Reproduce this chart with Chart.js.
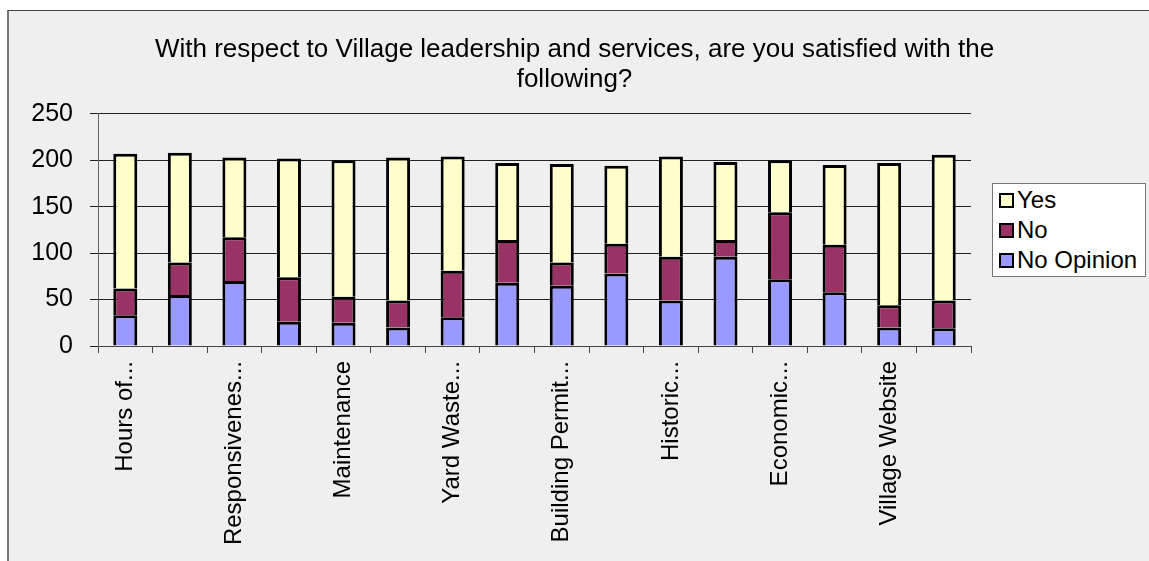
<!DOCTYPE html>
<html>
<head>
<meta charset="utf-8">
<script src="https://cdn.jsdelivr.net/npm/chart.js@4.4.1/dist/chart.umd.min.js"></script>
<style>
  html, body { margin: 0; padding: 0; background: #fff; }
  body { width: 1149px; height: 561px; position: relative; overflow: hidden; font-family: "Liberation Sans", Arial, sans-serif; }
  .frame { position: absolute; left: 7px; top: 10px; width: 1160px; height: 570px; background: #efefef; border-top: 1px solid #444; border-left: 2px solid #777; }
  #chart { position: absolute; left: 0; top: 0; }
  .legend { position: absolute; left: 992px; top: 183px; width: 152px; height: 92px; background: #fff; border: 1px solid #777; }
  .legend-item { display: flex; align-items: center; height: 30px; font-size: 24px; color: #000; padding-left: 6px; }
  .legend-item:first-child { margin-top: 1px; }
  .swatch { width: 11px; height: 11px; border: 2px solid #000; margin-right: 3px; }
</style>
</head>
<body>
<div class="frame"></div>
<canvas id="chart" width="1149" height="561"></canvas>
<div class="legend" id="legend"></div>
<script>
// ============================================
// Village leadership & services — satisfaction
// ============================================

// Only every second category name is visible in the source chart
const categories = [
  'Hours of...', '', 'Responsivenes...', '', 'Maintenance', '', 'Yard Waste...', '',
  'Building Permit...', '', 'Historic...', '', 'Economic...', '', 'Village Website', ''
];

const noOpinion = [33, 55, 70, 26, 25, 20, 31, 68, 65, 78, 49, 96, 72, 58, 20, 19];
const no        = [29, 35, 47, 48, 28, 29, 50, 46, 25, 32, 47, 18, 72, 51, 24, 30];
const yes       = [145, 118, 86, 128, 147, 154, 123, 83, 106, 84, 108, 84, 56, 86, 153, 157];

const yTicks = [0, 50, 100, 150, 200, 250];

const titleLines = [
  'With respect to Village leadership and services, are you satisfied with the',
  'following?'
];

const FONT = '"Liberation Sans", Arial, sans-serif';

const datasets = [
  { label: 'No Opinion', data: noOpinion, backgroundColor: '#9999ff' },
  { label: 'No', data: no, backgroundColor: '#993366' },
  { label: 'Yes', data: yes, backgroundColor: '#ffffcc' },
].map(ds => Object.assign(ds, {
  borderColor: '#000',
  borderWidth: 3,
  barPercentage: 0.44,
  categoryPercentage: 1,
  yAxisID: 'y',
}));

const chart = new Chart(document.getElementById('chart').getContext('2d'), {
  type: 'bar',
  data: { labels: categories, datasets },
  options: {
    responsive: false,
    animation: false,
    devicePixelRatio: 1,
    layout: { padding: 0 },
    plugins: {
      legend: { display: false },
      tooltip: { enabled: false },
      title: {
        display: true,
        text: titleLines,
        color: '#000',
        font: { family: FONT, size: 26, weight: 'normal', lineHeight: 1.15 },
        padding: { top: 35, bottom: 19 },
      },
    },
    scales: {
      x: {
        stacked: true,
        afterFit(scale) { scale.height = 215; },
        grid: { display: true, drawOnChartArea: false, drawTicks: true, tickLength: 7, color: '#444' },
        border: { display: true, color: '#444', width: 1 },
        ticks: {
          autoSkip: false,
          maxRotation: 90,
          minRotation: 90,
          padding: 8,
          color: '#000',
          font: { family: FONT, size: 24 },
        },
      },
      y: {
        stacked: true,
        position: 'left',
        min: 0,
        max: 250,
        afterFit(scale) { scale.width = 98; },
        afterBuildTicks(scale) { scale.ticks = yTicks.map(v => ({ value: v })); },
        grid: { color: '#222', tickLength: 8, lineWidth: 1 },
        border: { display: true, color: '#666', width: 1 },
        ticks: {
          padding: 17,
          color: '#000',
          font: { family: FONT, size: 25 },
        },
      },
      // empty axis on the right only reserves room for the legend box
      spacer: {
        type: 'linear',
        position: 'right',
        afterFit(scale) { scale.width = 178; },
        grid: { display: false },
        border: { display: false },
        ticks: { display: false },
      },
    },
  },
});

// Legend box: same order as the original (top of stack first)
const legendEl = document.getElementById('legend');
[...datasets].reverse().forEach(ds => {
  const item = document.createElement('div');
  item.className = 'legend-item';
  item.innerHTML = `<span class="swatch" style="background:${ds.backgroundColor}"></span>${ds.label}`;
  legendEl.appendChild(item);
});
</script>
</body>
</html>
